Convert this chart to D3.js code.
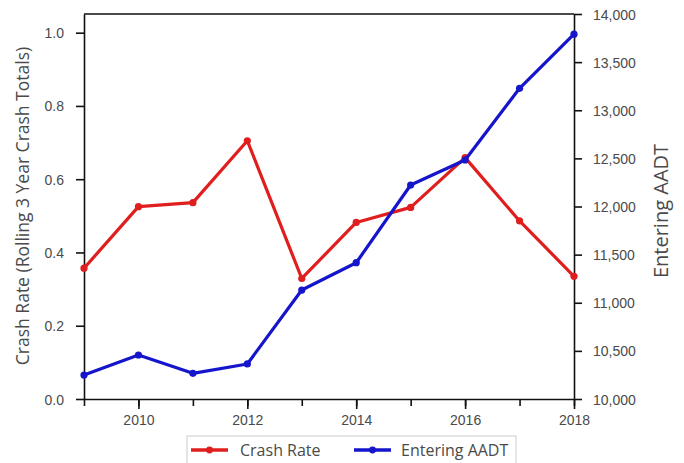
<!DOCTYPE html>
<html>
<head>
<meta charset="utf-8">
<script src="https://cdn.jsdelivr.net/npm/d3@7"></script>
<style>
  html, body { margin: 0; padding: 0; background: #fff; }
  svg { display: block; font-family: "Open Sans", "DejaVu Sans", sans-serif; }
  .tick text { fill: #4a4a4a; font-size: 14px; }
  .axis path, .axis line { stroke: #111; stroke-width: 1.6px; }
</style>
</head>
<body>
<svg id="chart" width="684" height="463"></svg>
<script>
// Yearly values
const years = [2009, 2010, 2011, 2012, 2013, 2014, 2015, 2016, 2017, 2018];
const crashRate = [0.357, 0.525, 0.536, 0.705, 0.329, 0.482, 0.523, 0.659, 0.486, 0.335];
const enteringAADT = [10249, 10457, 10267, 10364, 11132, 11416, 12223, 12483, 13228, 13790];
const leftTicks = [0, 0.2, 0.4, 0.6, 0.8, 1.0];
const rightTicks = [10000, 10500, 11000, 11500, 12000, 12500, 13000, 13500, 14000];
const xMajorTicks = [2010, 2012, 2014, 2016, 2018];
const seriesNames = ["Crash Rate", "Entering AADT"];
const seriesColors = ["#e01e1e", "#1515cc"];

const svg = d3.select("#chart");
const m = { left: 84, right: 574, top: 14, bottom: 399 };

const x = d3.scaleLinear().domain([2009, 2018]).range([m.left, m.right]);
const yL = d3.scaleLinear().domain([0, 1.051]).range([m.bottom, m.top]);
const yR = d3.scaleLinear().domain([10000, 14000]).range([m.bottom, m.top]);

// Frame top edge
svg.append("line")
  .attr("x1", m.left).attr("x2", m.right)
  .attr("y1", m.top).attr("y2", m.top)
  .attr("stroke", "#111").attr("stroke-width", 1.6);

// Bottom axis: minor ticks every year, labels on even years
svg.append("g").attr("class", "axis")
  .attr("transform", `translate(0,${m.bottom})`)
  .call(d3.axisBottom(x).tickValues(years).tickSize(7).tickSizeOuter(0).tickFormat(""));
svg.append("g").attr("class", "axis")
  .attr("transform", `translate(0,${m.bottom})`)
  .call(d3.axisBottom(x).tickValues(xMajorTicks).tickSize(10).tickSizeOuter(0).tickPadding(6).tickFormat(d3.format("d")))
  .call(g => g.select(".domain").remove());

// Left axis
svg.append("g").attr("class", "axis")
  .attr("transform", `translate(${m.left},0)`)
  .call(d3.axisLeft(yL).tickValues(leftTicks).tickSize(8).tickSizeOuter(0).tickPadding(12).tickFormat(d3.format(".1f")))
  .call(g => g.selectAll(".tick text").attr("dy", "0.36em"));

// Right axis
svg.append("g").attr("class", "axis")
  .attr("transform", `translate(${m.right},0)`)
  .call(d3.axisRight(yR).tickValues(rightTicks).tickSize(8).tickSizeOuter(0).tickPadding(11).tickFormat(d3.format(",")))
  .call(g => g.selectAll(".tick text").attr("dy", "0.36em"));

// Axis titles
svg.append("text")
  .attr("transform", `translate(29,${206}) rotate(-90)`)
  .attr("text-anchor", "middle")
  .attr("fill", "#4a4a4a").attr("font-size", 17.5)
  .text("Crash Rate (Rolling 3 Year Crash Totals)");
svg.append("text")
  .attr("transform", `translate(668,${211}) rotate(-90)`)
  .attr("text-anchor", "middle")
  .attr("fill", "#4a4a4a").attr("font-size", 20)
  .text("Entering AADT");

// Series lines and markers
const lineL = d3.line().x((d, i) => x(years[i])).y(d => yL(d));
const lineR = d3.line().x((d, i) => x(years[i])).y(d => yR(d));

function drawSeries(values, line, yScale, color) {
  const g = svg.append("g");
  g.append("path").datum(values)
    .attr("d", line)
    .attr("fill", "none").attr("stroke", color)
    .attr("stroke-width", 3.2).attr("stroke-linejoin", "round");
  g.selectAll("circle").data(values).join("circle")
    .attr("cx", (d, i) => x(years[i])).attr("cy", d => yScale(d))
    .attr("r", 3.6).attr("fill", color);
}
drawSeries(crashRate, lineL, yL, seriesColors[0]);
drawSeries(enteringAADT, lineR, yR, seriesColors[1]);

// Legend
const legend = svg.append("g");
legend.append("rect")
  .attr("x", 187).attr("y", 436).attr("width", 329).attr("height", 30)
  .attr("fill", "#fff").attr("stroke", "#ccc").attr("stroke-width", 1);
const items = [{ x: 191, tx: 240 }, { x: 354, tx: 401 }];
items.forEach((it, i) => {
  legend.append("line")
    .attr("x1", it.x).attr("x2", it.x + 37)
    .attr("y1", 450).attr("y2", 450)
    .attr("stroke", seriesColors[i]).attr("stroke-width", 3.4);
  legend.append("circle")
    .attr("cx", it.x + 18.5).attr("cy", 450).attr("r", 3.4)
    .attr("fill", seriesColors[i]);
  legend.append("text")
    .attr("x", it.tx).attr("y", 456)
    .attr("fill", "#4a4a4a").attr("font-size", 16)
    .text(seriesNames[i]);
});
</script>
</body>
</html>
